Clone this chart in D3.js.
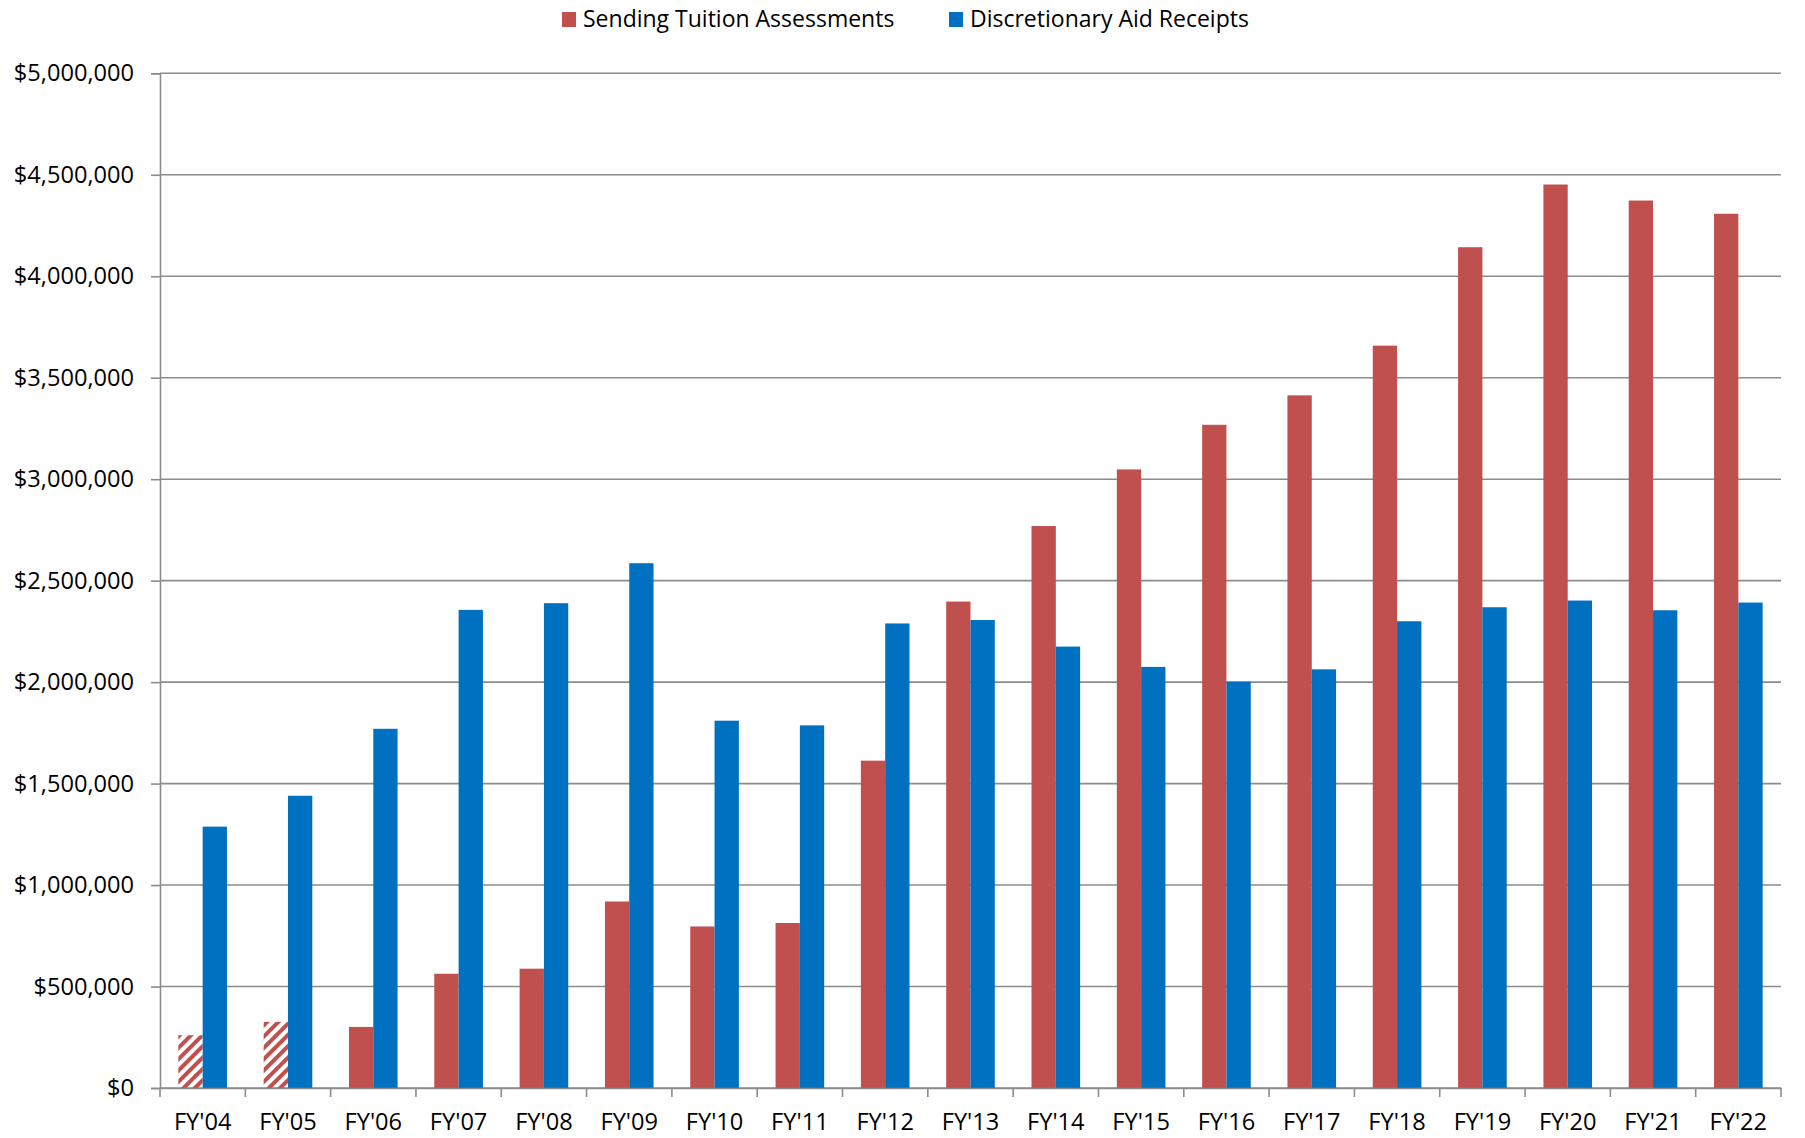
<!DOCTYPE html>
<html>
<head>
	<meta charset="utf-8">
	<script src="https://d3js.org/d3.v7.min.js"></script>
	<style>
		body { margin: 0; background: #fff; }
		text { font-family: "Open Sans", "Noto Sans", sans-serif; fill: #000; }
	</style>
</head>
<body>
	<script type="text/javascript">

		var w = 1805;
		var h = 1138;

		// data
		var years = ["FY'04", "FY'05", "FY'06", "FY'07", "FY'08", "FY'09", "FY'10", "FY'11", "FY'12", "FY'13",
			"FY'14", "FY'15", "FY'16", "FY'17", "FY'18", "FY'19", "FY'20", "FY'21", "FY'22"];
		var tuition = [260000, 326000, 301000, 563000, 588000, 919000, 796000, 813000, 1613000, 2397000,
			2769000, 3048000, 3268000, 3413000, 3658000, 4143000, 4452000, 4373000, 4308000];
		var aid = [1288000, 1440000, 1770000, 2356000, 2389000, 2586000, 1810000, 1787000, 2289000, 2306000,
			2175000, 2075000, 2002000, 2063000, 2300000, 2369000, 2402000, 2354000, 2392000];
		var hatchedYears = ["FY'04", "FY'05"];
		var seriesNames = ["Sending Tuition Assessments", "Discretionary Aid Receipts"];
		var yTicks = [0, 500000, 1000000, 1500000, 2000000, 2500000, 3000000, 3500000, 4000000, 4500000, 5000000];

		var colors = {"Sending Tuition Assessments": "#C0504D", "Discretionary Aid Receipts": "#0070C0"};

		var svg = d3.select("body")
			.append("svg")
			.attr("width", w)
			.attr("height", h);

		// hatch for the first two tuition bars
		svg.append("defs")
			.append("pattern")
			.attr("id", "hatch")
			.attr("patternUnits", "userSpaceOnUse")
			.attr("width", 8)
			.attr("height", 8)
			.attr("patternTransform", "rotate(45)")
			.append("rect")
			.attr("width", 4)
			.attr("height", 8)
			.attr("fill", "#C0504D");

		var x = d3.scaleBand()
			.domain(years)
			.range([160, 1781]);

		var x1 = d3.scaleBand()
			.domain(seriesNames)
			.range([0, x.bandwidth()])
			.paddingOuter(0.755);

		var y = d3.scaleLinear()
			.domain([0, 5000000])
			.range([1088, 73.3]);

		// gridlines + y axis
		var yAxis = d3.axisLeft(y)
			.tickValues(yTicks)
			.tickFormat(d3.format("$,"))
			.tickSize(9)
			.tickPadding(17);

		var gy = svg.append("g")
			.attr("transform", "translate(160,0)")
			.call(yAxis);
		gy.select(".domain").attr("stroke", "#8c8c8c").attr("stroke-width", 1.6);
		gy.selectAll(".tick line").attr("stroke", "#8c8c8c").attr("stroke-width", 1.6);
		gy.selectAll(".tick text").attr("font-size", "23.6px").attr("font-family", "Open Sans");

		svg.append("g")
			.selectAll("line")
			.data(yTicks)
			.enter()
			.append("line")
			.attr("x1", 160)
			.attr("x2", 1781)
			.attr("y1", function(d){ return y(d); })
			.attr("y2", function(d){ return y(d); })
			.attr("stroke", "#8c8c8c")
			.attr("stroke-width", 1.6);

		// bars
		var rows = years.map(function(yr, i){
			return {year: yr, values: [
				{name: seriesNames[0], value: tuition[i]},
				{name: seriesNames[1], value: aid[i]}
			]};
		});

		svg.append("g")
			.selectAll("g")
			.data(rows)
			.enter()
			.append("g")
			.attr("transform", function(d){ return "translate(" + x(d.year) + ",0)"; })
			.selectAll("rect")
			.data(function(d){
				return d.values.map(function(v){ return {year: d.year, name: v.name, value: v.value}; });
			})
			.enter()
			.append("rect")
			.attr("x", function(d){ return x1(d.name); })
			.attr("y", function(d){ return y(d.value); })
			.attr("width", x1.bandwidth())
			.attr("height", function(d){ return y(0) - y(d.value); })
			.attr("fill", function(d){
				if (d.name == seriesNames[0] && hatchedYears.indexOf(d.year) >= 0) return "url(#hatch)";
				return colors[d.name];
			});

		// x axis
		var xAxis = d3.axisBottom(x)
			.tickSize(0)
			.tickPadding(25);

		var gx = svg.append("g")
			.attr("transform", "translate(0,1088)")
			.call(xAxis);
		gx.select(".domain").attr("stroke", "#8c8c8c").attr("stroke-width", 1.6);
		gx.selectAll(".tick text").attr("font-size", "23.6px").attr("font-family", "Open Sans")
			.attr("dy", "0.71em");

		// category separators below the axis
		svg.append("g")
			.selectAll("line")
			.data(years.concat(["end"]))
			.enter()
			.append("line")
			.attr("x1", function(d, i){ return i < years.length ? x(d) : x.range()[1]; })
			.attr("x2", function(d, i){ return i < years.length ? x(d) : x.range()[1]; })
			.attr("y1", 1088)
			.attr("y2", 1097)
			.attr("stroke", "#8c8c8c")
			.attr("stroke-width", 1.6);

		// legend
		var legendX = [562, 949];
		var legend = svg.append("g")
			.selectAll("g")
			.data(seriesNames)
			.enter()
			.append("g")
			.attr("transform", function(d, i){ return "translate(" + legendX[i] + ",0)"; });

		legend.append("rect")
			.attr("x", 0)
			.attr("y", 12)
			.attr("width", 14)
			.attr("height", 15)
			.attr("fill", function(d){ return colors[d]; });

		legend.append("text")
			.attr("x", 21)
			.attr("y", 27)
			.attr("font-size", "23px")
			.text(function(d){ return d; });

	</script>
</body>
</html>
